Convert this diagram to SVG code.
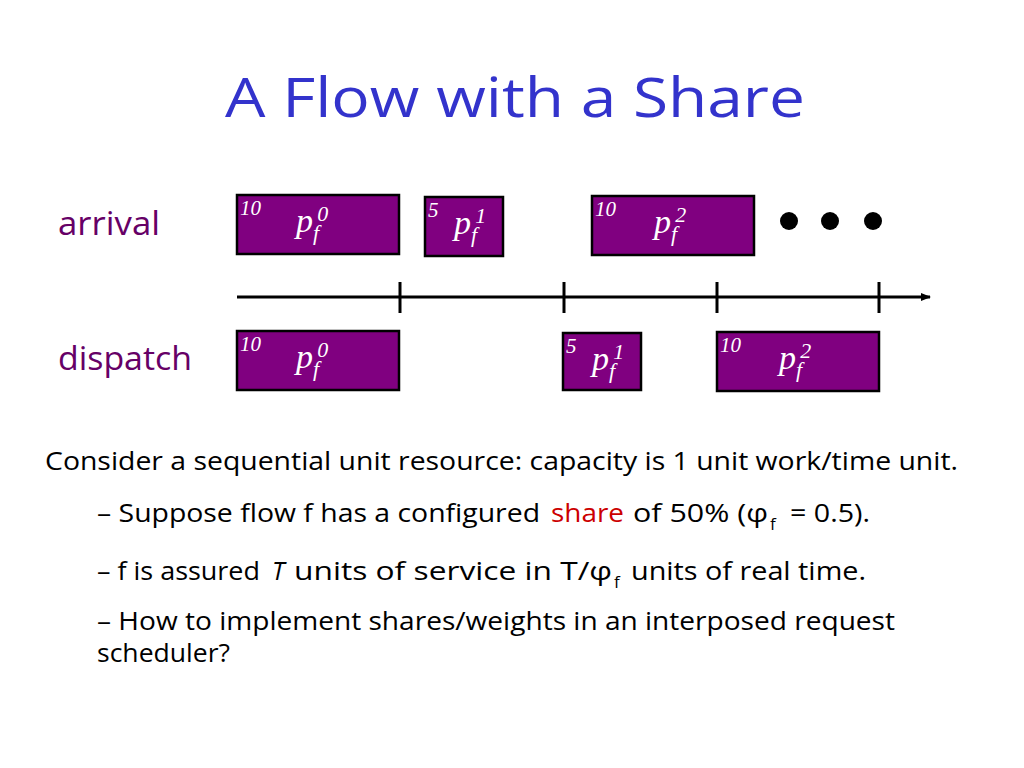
<svg xmlns="http://www.w3.org/2000/svg" width="1024" height="768" viewBox="0 0 1024 768">
<defs>
<style>
.title{font-family:"Open Sans","Liberation Sans",sans-serif;font-size:54px;fill:#3333cc}
.lbl{font-family:"Open Sans","Liberation Sans",sans-serif;font-size:32px;fill:#660066}
.body{font-family:"Open Sans","Liberation Sans",sans-serif;font-size:25px;fill:#000}
.red{fill:#cc0000}
.sb{font-family:"Open Sans","Liberation Sans",sans-serif;font-size:17px;fill:#000}
.box{fill:#800080;stroke:#000;stroke-width:2.5}
.num{font-family:"Liberation Serif",serif;font-style:italic;font-size:21px;fill:#fff}
.p{font-family:"Liberation Serif",serif;font-style:italic;font-size:34px;fill:#fff}
.sub{font-size:22px}
.axis{stroke:#000;stroke-width:3;fill:none}
</style>
<marker id="arr" markerWidth="10" markerHeight="8" refX="9" refY="4" orient="auto" markerUnits="userSpaceOnUse">
<path d="M0,0 L10,4 L0,8 Z" fill="#000"/>
</marker>
</defs>
<rect width="1024" height="768" fill="#fff"/>
<text class="title" x="225" y="117" textLength="580" lengthAdjust="spacingAndGlyphs">A Flow with a Share</text>
<text class="lbl" x="58" y="235" textLength="102" lengthAdjust="spacingAndGlyphs">arrival</text>
<text class="lbl" x="58" y="370" textLength="134" lengthAdjust="spacingAndGlyphs">dispatch</text>

<g id="a0"><rect class="box" x="237" y="195" width="162" height="59"/><text class="num" x="240" y="215">10</text><text class="p" x="296" y="232">p<tspan class="sub" dy="8">f</tspan><tspan class="sub" dy="-19" dx="-2">0</tspan></text></g>
<g id="a1"><rect class="box" x="425" y="197" width="78" height="59"/><text class="num" x="428" y="217">5</text><text class="p" x="454" y="234">p<tspan class="sub" dy="8">f</tspan><tspan class="sub" dy="-19" dx="-2">1</tspan></text></g>
<g id="a2"><rect class="box" x="592" y="196" width="162" height="59"/><text class="num" x="595" y="216">10</text><text class="p" x="654" y="233">p<tspan class="sub" dy="8">f</tspan><tspan class="sub" dy="-19" dx="-2">2</tspan></text></g>
<g id="dots"><circle cx="789" cy="221" r="9"/><circle cx="830" cy="221" r="9"/><circle cx="873" cy="221" r="9"/></g>

<g id="connectors">
<line class="axis" x1="237" y1="297" x2="930" y2="297" marker-end="url(#arr)"/>
<line class="axis" x1="400" y1="282" x2="400" y2="313"/>
<line class="axis" x1="564" y1="282" x2="564" y2="313"/>
<line class="axis" x1="717" y1="282" x2="717" y2="313"/>
<line class="axis" x1="879" y1="282" x2="879" y2="313"/>
</g>

<g id="d0"><rect class="box" x="237" y="331" width="162" height="59"/><text class="num" x="240" y="351">10</text><text class="p" x="296" y="368">p<tspan class="sub" dy="8">f</tspan><tspan class="sub" dy="-19" dx="-2">0</tspan></text></g>
<g id="d1"><rect class="box" x="563" y="333" width="78" height="57"/><text class="num" x="566" y="353">5</text><text class="p" x="592" y="370">p<tspan class="sub" dy="8">f</tspan><tspan class="sub" dy="-19" dx="-2">1</tspan></text></g>
<g id="d2"><rect class="box" x="717" y="332" width="162" height="59"/><text class="num" x="720" y="352">10</text><text class="p" x="779" y="369">p<tspan class="sub" dy="8">f</tspan><tspan class="sub" dy="-19" dx="-2">2</tspan></text></g>

<text class="body" x="45" y="470" textLength="913" lengthAdjust="spacingAndGlyphs">Consider a sequential unit resource: capacity is 1 unit work/time unit.</text>

<text class="body" x="97" y="522" textLength="443" lengthAdjust="spacingAndGlyphs">– Suppose flow f has a configured</text>
<text class="body red" x="551" y="522" textLength="73" lengthAdjust="spacingAndGlyphs">share</text>
<text class="body" x="633" y="522" textLength="135" lengthAdjust="spacingAndGlyphs">of 50% (φ</text>
<text class="sb" x="770" y="530">f</text>
<text class="body" x="790" y="522" textLength="80" lengthAdjust="spacingAndGlyphs">= 0.5).</text>

<text class="body" x="97" y="580" textLength="163" lengthAdjust="spacingAndGlyphs">– f is assured</text>
<text class="body" x="272" y="580" font-style="italic">T</text>
<text class="body" x="294" y="580" textLength="318" lengthAdjust="spacingAndGlyphs">units of service in T/φ</text>
<text class="sb" x="614" y="588">f</text>
<text class="body" x="631" y="580" textLength="235" lengthAdjust="spacingAndGlyphs">units of real time.</text>

<text class="body" x="97" y="630" textLength="798" lengthAdjust="spacingAndGlyphs">– How to implement shares/weights in an interposed request</text>
<text class="body" x="97" y="662" textLength="133" lengthAdjust="spacingAndGlyphs">scheduler?</text>
</svg>
